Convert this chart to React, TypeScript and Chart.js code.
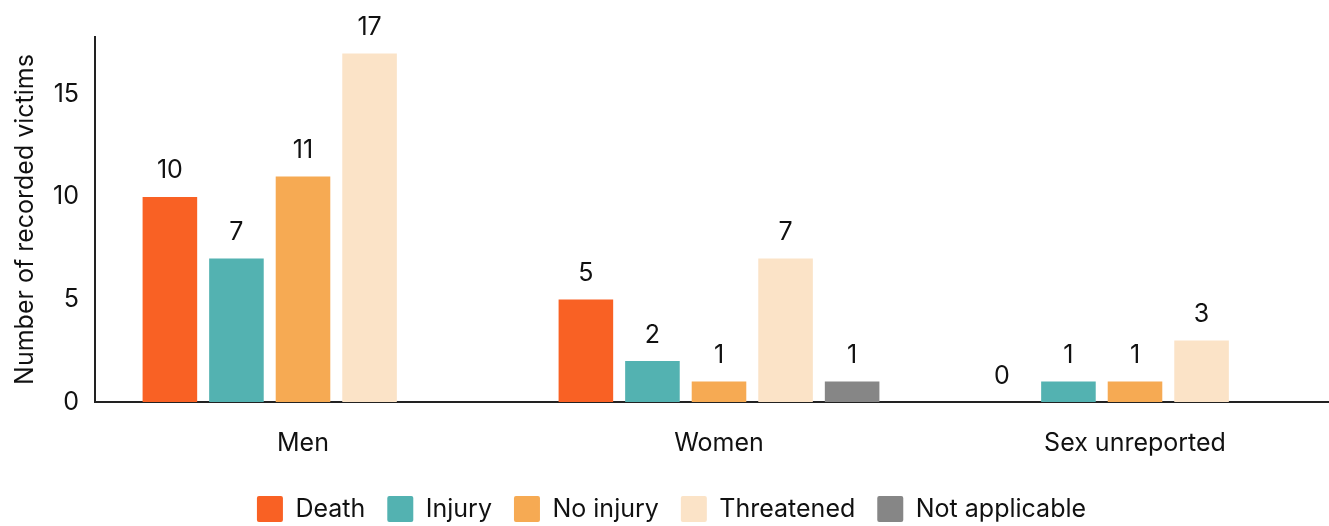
import React, { useEffect, useRef } from "react";
import { Chart, registerables } from "chart.js";

Chart.register(...registerables);

const categories = ["Men", "Women", "Sex unreported"];
const seriesNames = ["Death", "Injury", "No injury", "Threatened", "Not applicable"];
const death: (number | null)[] = [10, 5, 0];
const injury: (number | null)[] = [7, 2, 1];
const noInjury: (number | null)[] = [11, 1, 1];
const threatened: (number | null)[] = [17, 7, 3];
const notApplicable: (number | null)[] = [null, 1, null];
const seriesValues = [death, injury, noInjury, threatened, notApplicable];
const seriesColors = ["#F96124", "#53B2B1", "#F6AA53", "#FBE3C7", "#868686"];
const yTickValues = [0, 5, 10, 15];
const yMax = 17.8;
const yTitle = "Number of recorded victims";

const FONT = "Inter, 'DejaVu Sans', sans-serif";
const TEXT = "#111111";

const valueLabels = {
  id: "valueLabels",
  afterDatasetsDraw(chart: any) {
    const ctx = chart.ctx;
    ctx.save();
    ctx.font = `25px ${FONT}`;
    ctx.fillStyle = TEXT;
    ctx.textAlign = "center";
    ctx.textBaseline = "middle";
    chart.data.datasets.forEach((ds: any, di: number) => {
      const meta = chart.getDatasetMeta(di);
      meta.data.forEach((el: any, i: number) => {
        const v = ds.data[i];
        if (v === null || v === undefined) return;
        ctx.fillText(String(v), el.x, el.y - 26);
      });
    });
    ctx.restore();
  },
};

export default function App() {
  const ref = useRef<HTMLCanvasElement | null>(null);

  useEffect(() => {
    if (!ref.current) return;
    const chart = new Chart(ref.current, {
      type: "bar",
      data: {
        labels: categories,
        datasets: seriesNames.map((name, i) => ({
          label: name,
          data: seriesValues[i],
          backgroundColor: seriesColors[i],
          borderWidth: 0,
          categoryPercentage: 0.8,
          barPercentage: 0.82,
        })),
      },
      options: {
        responsive: false,
        animation: false,
        devicePixelRatio: 1,
        layout: { padding: { top: 37, right: 0, left: 0, bottom: 0 } },
        plugins: {
          tooltip: { enabled: false },
          legend: {
            position: "bottom",
            labels: {
              boxWidth: 26,
              boxHeight: 26,
              padding: 22,
              color: TEXT,
              useBorderRadius: true,
              borderRadius: 2,
              font: { family: FONT, size: 25 },
            },
          },
        },
        scales: {
          x: {
            grid: { display: false, drawTicks: false },
            border: { display: true, color: "#222222", width: 2 },
            ticks: { color: TEXT, padding: 26, font: { family: FONT, size: 25 } },
            afterFit: (scale: any) => {
              scale.height = 72;
            },
          },
          y: {
            min: 0,
            max: yMax,
            grid: { display: false, drawTicks: false },
            border: { display: true, color: "#222222", width: 2 },
            ticks: { color: TEXT, padding: 16, font: { family: FONT, size: 25 } },
            afterBuildTicks: (scale: any) => {
              scale.ticks = yTickValues.map((v) => ({ value: v }));
            },
            afterFit: (scale: any) => {
              scale.width = 95;
            },
            title: {
              display: true,
              text: yTitle,
              color: TEXT,
              font: { family: FONT, size: 25 },
              padding: { top: 10, bottom: 0 },
            },
          },
        },
      },
      plugins: [valueLabels],
    });
    return () => chart.destroy();
  }, []);

  return (
    <div
      style={{
        position: "fixed",
        left: 0,
        top: 0,
        width: 1329,
        height: 526,
        overflow: "hidden",
        background: "#ffffff",
      }}
    >
      <canvas ref={ref} width={1343} height={532} style={{ display: "block" }} />
    </div>
  );
}
